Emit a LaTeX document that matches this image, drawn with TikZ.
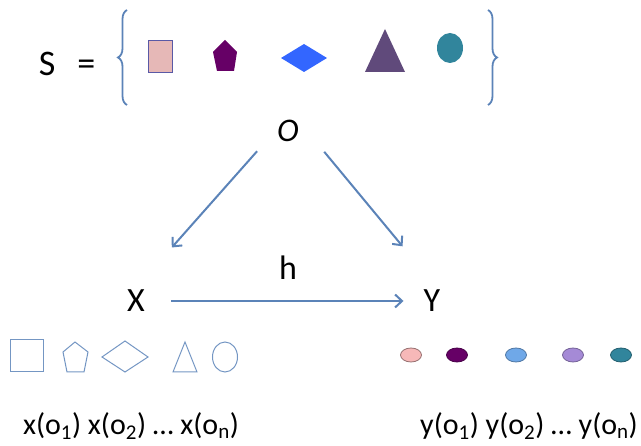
\documentclass[tikz,border=0pt]{standalone}
\usepackage{fontspec}
\setmainfont{Carlito}
\usetikzlibrary{arrows.meta,decorations.pathreplacing}
\definecolor{arrblue}{HTML}{5B83B8}
\definecolor{rosy}{HTML}{E6B8B7}
\definecolor{plum}{HTML}{660066}
\definecolor{royal}{HTML}{3366FF}
\definecolor{grape}{HTML}{604A7B}
\definecolor{teal}{HTML}{31859C}
\definecolor{sky}{HTML}{6FA8E8}
\definecolor{lilac}{HTML}{A58AD6}
\definecolor{blush}{HTML}{F7B8B8}
\begin{document}
\begin{tikzpicture}[x=1pt,y=-1pt,>={Straight Barb[length=7pt,width=13pt]},
  lbl/.style={font=\fontsize{34}{40}\selectfont,inner sep=2pt},
  arr/.style={->,arrblue,line width=2pt},
  curly/.style={arrblue,line width=1.8pt,decorate,decoration={brace,amplitude=9pt}},
  outl/.style={draw=arrblue!85,line width=1pt},
  dot/.style={line width=0.8pt},
  seq/.style={font=\fontsize{30}{36}\selectfont}]
 \useasboundingbox (0,0) rectangle (641,446);
 \node[lbl,font=\fontsize{36}{42}\selectfont] (S) at (67,64) {S\hspace{22pt}=};
 \draw[curly] (127,105)--(127,10);
 \draw[curly] (488,10)--(488,105);
 \filldraw[fill=rosy,draw=gray!70!blue,line width=0.8pt] (148,40) rectangle (172,72);
 \fill[plum] (225,40)--(237,52)--(234,71)--(217,71)--(213,52)--cycle;
 \fill[royal] (281,58)--(304,44)--(327,58)--(304,72)--cycle;
 \fill[grape] (365,72)--(405,72)--(385,29)--cycle;
 \fill[teal] (450,48) ellipse [x radius=13,y radius=15];
 \node[lbl,font=\fontsize{33}{40}\selectfont\itshape] (O) at (288,131) {O};
 \node[lbl] (X) at (136,301) {X};
 \node[lbl] (Y) at (432,301) {Y};
 \node[lbl] (h) at (288,268) {h};
 \draw[arr,shorten <=27pt,shorten >=54pt] (O.west)--(X.north);
 \draw[arr,shorten <=27pt,shorten >=54pt] ([xshift=6pt]O.east)--([xshift=5pt]Y.north);
 \draw[arr,shorten <=24pt,shorten >=18pt] (X)--(Y);
 \draw[outl] (10,340) rectangle (43,372);
 \draw[outl] (75,342)--(88,352)--(84,372)--(67,372)--(63,352)--cycle;
 \draw[outl] (102,357)--(125,341)--(148,357)--(125,372)--cycle;
 \draw[outl] (173,372)--(197,372)--(185,342)--cycle;
 \draw[outl] (225,357) ellipse [x radius=12.5,y radius=15];
 \filldraw[dot,fill=blush,draw=blush!60!black] (411,355) ellipse [x radius=10.5,y radius=7];
 \filldraw[dot,fill=plum,draw=plum!70!black] (457,355) ellipse [x radius=10.5,y radius=7];
 \filldraw[dot,fill=sky,draw=sky!70!black] (516,355) ellipse [x radius=10.5,y radius=7];
 \filldraw[dot,fill=lilac,draw=lilac!70!black] (573,355) ellipse [x radius=10.5,y radius=7];
 \filldraw[dot,fill=teal,draw=teal!70!black] (621,355) ellipse [x radius=10.5,y radius=7];
 \node[seq] (xs) at (131,426) {x(o\textsubscript{1}) x(o\textsubscript{2}) … x(o\textsubscript{n})};
 \node[seq] (ys) at (529,426) {y(o\textsubscript{1}) y(o\textsubscript{2}) … y(o\textsubscript{n})};
\end{tikzpicture}
\end{document}
